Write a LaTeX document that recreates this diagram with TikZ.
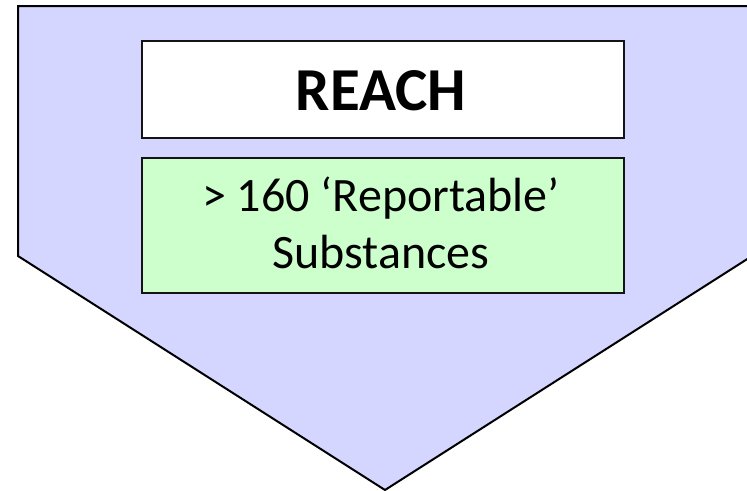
\documentclass[tikz,border=0pt]{standalone}
\usepackage{fontspec}
\setmainfont{Carlito}
\definecolor{arrowblue}{RGB}{212,214,255}
\definecolor{palegreen}{RGB}{204,255,204}
\definecolor{edgegray}{RGB}{20,20,20}
\begin{document}
\begin{tikzpicture}[x=1pt,y=-1pt,
  panel/.style={draw=edgegray,line width=1.6pt,minimum width=482pt,inner sep=0pt,anchor=north west},
  title/.style={font=\fontsize{61}{72}\selectfont\bfseries},
  body/.style={font=\fontsize{48}{58}\selectfont}]
\useasboundingbox (0,0) rectangle (747,490);
\begin{scope}
  \clip (0,0) rectangle (747,490);
  % down-pointing block arrow
  \draw[fill=arrowblue,line width=2pt,line join=miter]
    (18,6) -- (752,6) -- (752,256) -- (385,490) -- (18,256) -- cycle;
\end{scope}
% title box
\node[panel,fill=white,minimum height=97pt] (titlebox) at (141,40) {};
\node[title,anchor=base] (titletext) at (381,110) {REACH};
% detail box
\node[panel,fill=palegreen,minimum height=135pt] (detailbox) at (141,157) {};
\node[body,anchor=base] (line1) at (381,211) {> 160 ‘Reportable’};
\node[body,anchor=base] (line2) at (381,268) {Substances};
\end{tikzpicture}
\end{document}
